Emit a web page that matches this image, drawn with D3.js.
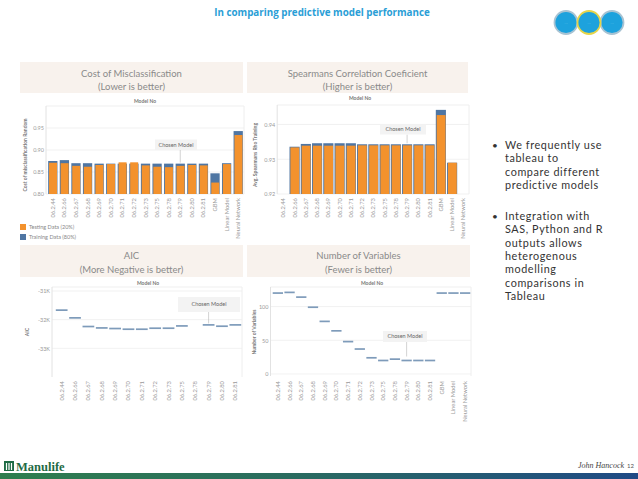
<!DOCTYPE html>
<html>
<head>
<meta charset="utf-8">
<script src="https://cdn.jsdelivr.net/npm/d3@7"></script>
<style>
body { margin: 0; background: #fff; }
svg { display: block; font-family: Lato, "Open Sans", sans-serif; }
</style>
</head>
<body>
<div id="slide"></div>
<script>
// model names on the x axes
var models = ["06.2.44", "06.2.66", "06.2.67", "06.2.68", "06.2.69", "06.2.70", "06.2.71", "06.2.72",
  "06.2.73", "06.2.75", "06.2.78", "06.2.79", "06.2.80", "06.2.81", "GBM", "Linear Model", "Neural Network"];
var aicModels = models.slice(0, 14);
var chosen = "06.2.79";

// cost of misclassification
var costTesting  = [0.871, 0.870, 0.864, 0.862, 0.866, 0.868, 0.872, 0.872, 0.865, 0.862, 0.861, 0.864, 0.866, 0.865, 0.826, 0.868, 0.934];
var costTraining = [0.875, 0.877, 0.870, 0.870, 0.869, 0.869, 0.869, 0.869, 0.869, 0.869, 0.869, 0.869, 0.869, 0.869, 0.847, 0.870, 0.943];
var costTicks = [0.80, 0.85, 0.90, 0.95];

// spearman rho
var rhoTesting  = [null, 0.9334, 0.9339, 0.9339, 0.9339, 0.9339, 0.9339, 0.9340, 0.9340, 0.9340, 0.9340, 0.9340, 0.9340, 0.9340, 0.9427, 0.9290, null];
var rhoTraining = [null, 0.9336, 0.9344, 0.9346, 0.9346, 0.9346, 0.9346, 0.9343, 0.9343, 0.9343, 0.9343, 0.9343, 0.9343, 0.9343, 0.9442, 0.9290, null];
var rhoTicks = [0.92, 0.93, 0.94];

// AIC
var aicValues = [-31667, -31937, -32239, -32288, -32309, -32333, -32333, -32298, -32298, -32218, null, -32182, -32228, -32182];
var aicTicks = [-31000, -32000, -33000];

// number of variables
var varCounts = [120, 121, 114, 99, 78, 64, 48, 37, 24, 20, 22, 20, 20, 20, 120, 120, 120];
var varTicks = [0, 50, 100];

var bullets = [
  ["We frequently use", "tableau to", "compare different", "predictive models"],
  ["Integration with", "SAS, Python and R", "outputs allows", "heterogenous", "modelling", "comparisons in", "Tableau"]
];

var colors = {testing: "#f3922d", training: "#4f76a3", dash: "#7e9bba", title: "#8a8a8a", label: "#9a9a9a"};

var svg = d3.select("#slide").append("svg")
  .attr("width", 638)
  .attr("height", 479);

var drawPanel = function(o) {
  var g = svg.append("g");

  g.append("rect")
    .attr("x", o.box[0]).attr("y", o.box[1])
    .attr("width", o.box[2]).attr("height", o.box[3])
    .attr("fill", "#f8f2ed");

  o.title.forEach(function(t, i) {
    g.append("text")
      .attr("x", o.box[0] + o.box[2] / 2)
      .attr("y", o.titleY[i])
      .attr("text-anchor", "middle")
      .attr("font-size", "9.5px")
      .attr("fill", colors.title)
      .text(t);
  });

  var x = d3.scaleBand().domain(o.cats).range(o.xr).paddingInner(o.pad).paddingOuter(o.pad / 2);
  var y = d3.scaleLinear().domain(o.dom).range(o.yr);

  g.append("text")
    .attr("x", o.headX).attr("y", o.headY)
    .attr("text-anchor", "middle")
    .attr("font-size", "5px")
    .attr("font-weight", "bold")
    .attr("fill", "#777")
    .text("Model No");

  // frame + grid
  g.append("line")
    .attr("x1", o.xr[0] - o.axisGap).attr("x2", o.xr[1])
    .attr("y1", o.yr[1]).attr("y2", o.yr[1])
    .attr("stroke", "#efefef");
  g.selectAll(".grid")
    .data(o.ticks)
    .enter()
    .append("line")
      .attr("x1", o.xr[0] - o.axisGap).attr("x2", o.xr[1])
      .attr("y1", function(d) { return y(d); })
      .attr("y2", function(d) { return y(d); })
      .attr("stroke", "#eeeeee")
      .attr("stroke-width", 0.8);
  g.append("line")
    .attr("x1", o.xr[0] - o.axisGap).attr("x2", o.xr[0] - o.axisGap)
    .attr("y1", o.yr[1]).attr("y2", o.yr[0])
    .attr("stroke", "#e2e2e2");
  g.append("line")
    .attr("x1", o.xr[1]).attr("x2", o.xr[1])
    .attr("y1", o.yr[1]).attr("y2", o.yr[0])
    .attr("stroke", "#eeeeee");

  var ya = g.append("g")
    .attr("transform", "translate(" + (o.xr[0] - o.axisGap) + ",0)")
    .call(d3.axisLeft(y).tickValues(o.ticks).tickSize(0).tickPadding(2).tickFormat(o.fmt));
  ya.select(".domain").remove();
  ya.attr("font-family", null).attr("font-size", "5.5px");
  ya.selectAll("text").attr("fill", colors.label);

  g.append("text")
    .attr("transform", "translate(" + o.yTitle[0] + "," + o.yTitle[1] + ") rotate(-90)")
    .attr("text-anchor", "middle")
    .attr("dy", "0.35em")
    .attr("font-size", "5px")
    .attr("font-weight", "bold")
    .attr("fill", "#777")
    .text(o.yLabel);

  var xa = g.append("g")
    .attr("transform", "translate(0," + o.labelY + ")")
    .call(d3.axisBottom(x).tickSize(0));
  xa.select(".domain").remove();
  xa.attr("font-family", null).attr("font-size", "5.8px");
  xa.selectAll("text")
    .attr("transform", "rotate(-90)")
    .attr("text-anchor", "end")
    .attr("x", 0).attr("y", 0)
    .attr("dy", "0.35em")
    .attr("fill", colors.label);

  return {g: g, x: x, y: y, o: o};
};

var drawBars = function(p, testing, training) {
  var base = p.y(p.o.dom[0]);
  var rows = p.o.cats.map(function(m, i) { return {model: m, test: testing[i], train: training[i]}; })
    .filter(function(d) { return d.test != null; });
  p.g.selectAll(".train")
    .data(rows)
    .enter()
    .append("rect")
      .attr("x", function(d) { return p.x(d.model); })
      .attr("width", p.x.bandwidth())
      .attr("y", function(d) { return p.y(d.train); })
      .attr("height", function(d) { return base - p.y(d.train); })
      .attr("fill", colors.training);
  p.g.selectAll(".test")
    .data(rows)
    .enter()
    .append("rect")
      .attr("x", function(d) { return p.x(d.model) + 0.9; })
      .attr("width", p.x.bandwidth() - 1.3)
      .attr("y", function(d) { return p.y(d.test); })
      .attr("height", function(d) { return base - p.y(d.test); })
      .attr("fill", colors.testing);
};

var drawDashes = function(p, values) {
  var rows = p.o.cats.map(function(m, i) { return {model: m, v: values[i]}; })
    .filter(function(d) { return d.v != null; });
  var w = p.x.bandwidth();
  p.g.selectAll(".dash")
    .data(rows)
    .enter()
    .append("line")
      .attr("x1", function(d) { return p.x(d.model) + w * 0.06; })
      .attr("x2", function(d) { return p.x(d.model) + w * 0.94; })
      .attr("y1", function(d) { return p.y(d.v); })
      .attr("y2", function(d) { return p.y(d.v); })
      .attr("stroke", colors.dash)
      .attr("stroke-width", 1.7);
};

var annotate = function(p, cx, top, w, h, fs, endY) {
  var lx = p.x(chosen) + p.x.bandwidth() / 2;
  p.g.append("line")
    .attr("x1", lx).attr("x2", lx)
    .attr("y1", top + h).attr("y2", endY)
    .attr("stroke", "#b5b5b5").attr("stroke-width", 0.6);
  p.g.append("rect")
    .attr("x", cx - w / 2).attr("y", top)
    .attr("width", w).attr("height", h)
    .attr("fill", "#f3f3f3");
  p.g.append("text")
    .attr("x", cx).attr("y", top + h / 2)
    .attr("dy", "0.35em")
    .attr("text-anchor", "middle")
    .attr("font-size", fs + "px")
    .attr("fill", "#666")
    .text("Chosen Model");
};

var ci = models.indexOf(chosen);

var p1 = drawPanel({
  box: [20, 62, 223, 31], title: ["Cost of Misclassification", "(Lower is better)"], titleY: [76.5, 90],
  cats: models, xr: [47, 244], pad: 0.2, dom: [0.80, 1.0], yr: [194, 106], axisGap: 1,
  ticks: costTicks, fmt: d3.format(".2f"), headX: 145, headY: 102.5,
  yTitle: [25, 155], yLabel: "Cost of misclassification Random", labelY: 198
});
drawBars(p1, costTesting, costTraining);
annotate(p1, 176, 139.5, 42, 10.5, 5.5, p1.y(costTraining[ci]) - 1);

// legend
var legend = [["Testing Data (20%)", colors.testing], ["Training Data (80%)", colors.training]];
legend.forEach(function(l, i) {
  svg.append("rect").attr("x", 20).attr("y", 224 + i * 10).attr("width", 6).attr("height", 6).attr("fill", l[1]);
  svg.append("text").attr("x", 29).attr("y", 229 + i * 10).attr("font-size", "5.5px").attr("fill", "#888").text(l[0]);
});

var p2 = drawPanel({
  box: [247, 62, 221, 31], title: ["Spearmans Correlation Coeficient", "(Higher is better)"], titleY: [77, 90],
  cats: models, xr: [277.7, 469], pad: 0.1, dom: [0.92, 0.9456], yr: [194, 105], axisGap: 0.5,
  ticks: rhoTicks, fmt: d3.format(".2f"), headX: 360, headY: 100,
  yTitle: [255, 155], yLabel: "Avg. Spearmans Rho Training", labelY: 198
});
drawBars(p2, rhoTesting, rhoTraining);
annotate(p2, 403, 124.5, 46, 10, 5.5, p2.y(rhoTraining[ci]) - 1);

var p3 = drawPanel({
  box: [20, 245, 223, 32], title: ["AIC", "(More Negative is better)"], titleY: [259, 272.5],
  cats: aicModels, xr: [55, 242], pad: 0, dom: [-34000, -30860], yr: [377, 287], axisGap: 3,
  ticks: aicTicks, fmt: function(d) { return d / 1000 + "K"; }, headX: 148, headY: 285,
  yTitle: [27, 332], yLabel: "AIC", labelY: 381
});
drawDashes(p3, aicValues);
annotate(p3, 209, 297, 62, 15, 5.5, p3.y(aicValues[ci]) - 1.5);

var p4 = drawPanel({
  box: [247, 245, 223, 32], title: ["Number of Variables", "(Fewer is better)"], titleY: [259, 272.5],
  cats: models, xr: [272, 471], pad: 0, dom: [-3, 129], yr: [376, 287], axisGap: 1.5,
  ticks: varTicks, fmt: d3.format("d"), headX: 372, headY: 285,
  yTitle: [254, 332], yLabel: "Number of Variables", labelY: 381
});
drawDashes(p4, varCounts);
annotate(p4, 405, 331, 44, 11, 5.5, p4.y(varCounts[ci]) - 4);

// header
svg.append("text")
  .attr("x", 322).attr("y", 16)
  .attr("text-anchor", "middle")
  .attr("font-family", "Open Sans")
  .attr("font-weight", "bold")
  .attr("font-size", "9.8px")
  .attr("fill", "#2a9ed6")
  .text("In comparing predictive model performance");

var rings = [[566, "#a8c3d3"], [612, "#a8c3d3"], [589, "#e6d54a"]];
rings.forEach(function(r) {
  svg.append("circle").attr("cx", r[0]).attr("cy", 22.5).attr("r", 11.5)
    .attr("fill", "#1da2dd").attr("stroke", r[1]).attr("stroke-width", 1.8);
  svg.append("text").attr("x", r[0]).attr("y", 23.5).attr("text-anchor", "middle")
    .attr("font-size", "2.5px").attr("fill", "#dff").text("· · ·");
});

// bullets, one text block per paragraph
var paraY = [149, 220];
bullets.forEach(function(par, j) {
  svg.append("text").attr("x", 492).attr("y", paraY[j]).attr("font-size", "10px").attr("fill", "#333").text("•");
  var t = svg.append("text")
    .attr("x", 505).attr("y", paraY[j])
    .attr("font-family", "Lato")
    .attr("font-size", "10.8px")
    .attr("letter-spacing", "0.6px")
    .attr("fill", "#333");
  par.forEach(function(line, i) {
    t.append("tspan").attr("x", 505).attr("dy", i == 0 ? 0 : 13.3).text(line);
  });
});

// footer
var grad = svg.append("defs").append("linearGradient").attr("id", "foot");
grad.append("stop").attr("offset", "0%").attr("stop-color", "#2e7e4e");
grad.append("stop").attr("offset", "45%").attr("stop-color", "#2a6c5f");
grad.append("stop").attr("offset", "100%").attr("stop-color", "#1f4a86");
svg.append("rect").attr("x", 0).attr("y", 473).attr("width", 638).attr("height", 6).attr("fill", "url(#foot)");

svg.append("rect").attr("x", 4).attr("y", 461).attr("width", 10).attr("height", 10).attr("fill", "#1f6b45");
[6.5, 9, 11.5].forEach(function(bx) {
  svg.append("rect").attr("x", bx - 0.6).attr("y", 463).attr("width", 1.2).attr("height", 7).attr("fill", "#fff");
});
svg.append("text").attr("x", 16).attr("y", 471)
  .attr("font-family", "Liberation Serif").attr("font-weight", "bold").attr("font-size", "12.5px")
  .attr("fill", "#1f6b45").text("Manulife");

svg.append("text").attr("x", 601).attr("y", 468).attr("text-anchor", "middle")
  .attr("font-family", "Liberation Serif").attr("font-style", "italic").attr("font-size", "8px")
  .attr("fill", "#444").text("John Hancock");
svg.append("text").attr("x", 627).attr("y", 468).attr("font-size", "6px").attr("fill", "#555").text("12");
</script>
</body>
</html>
